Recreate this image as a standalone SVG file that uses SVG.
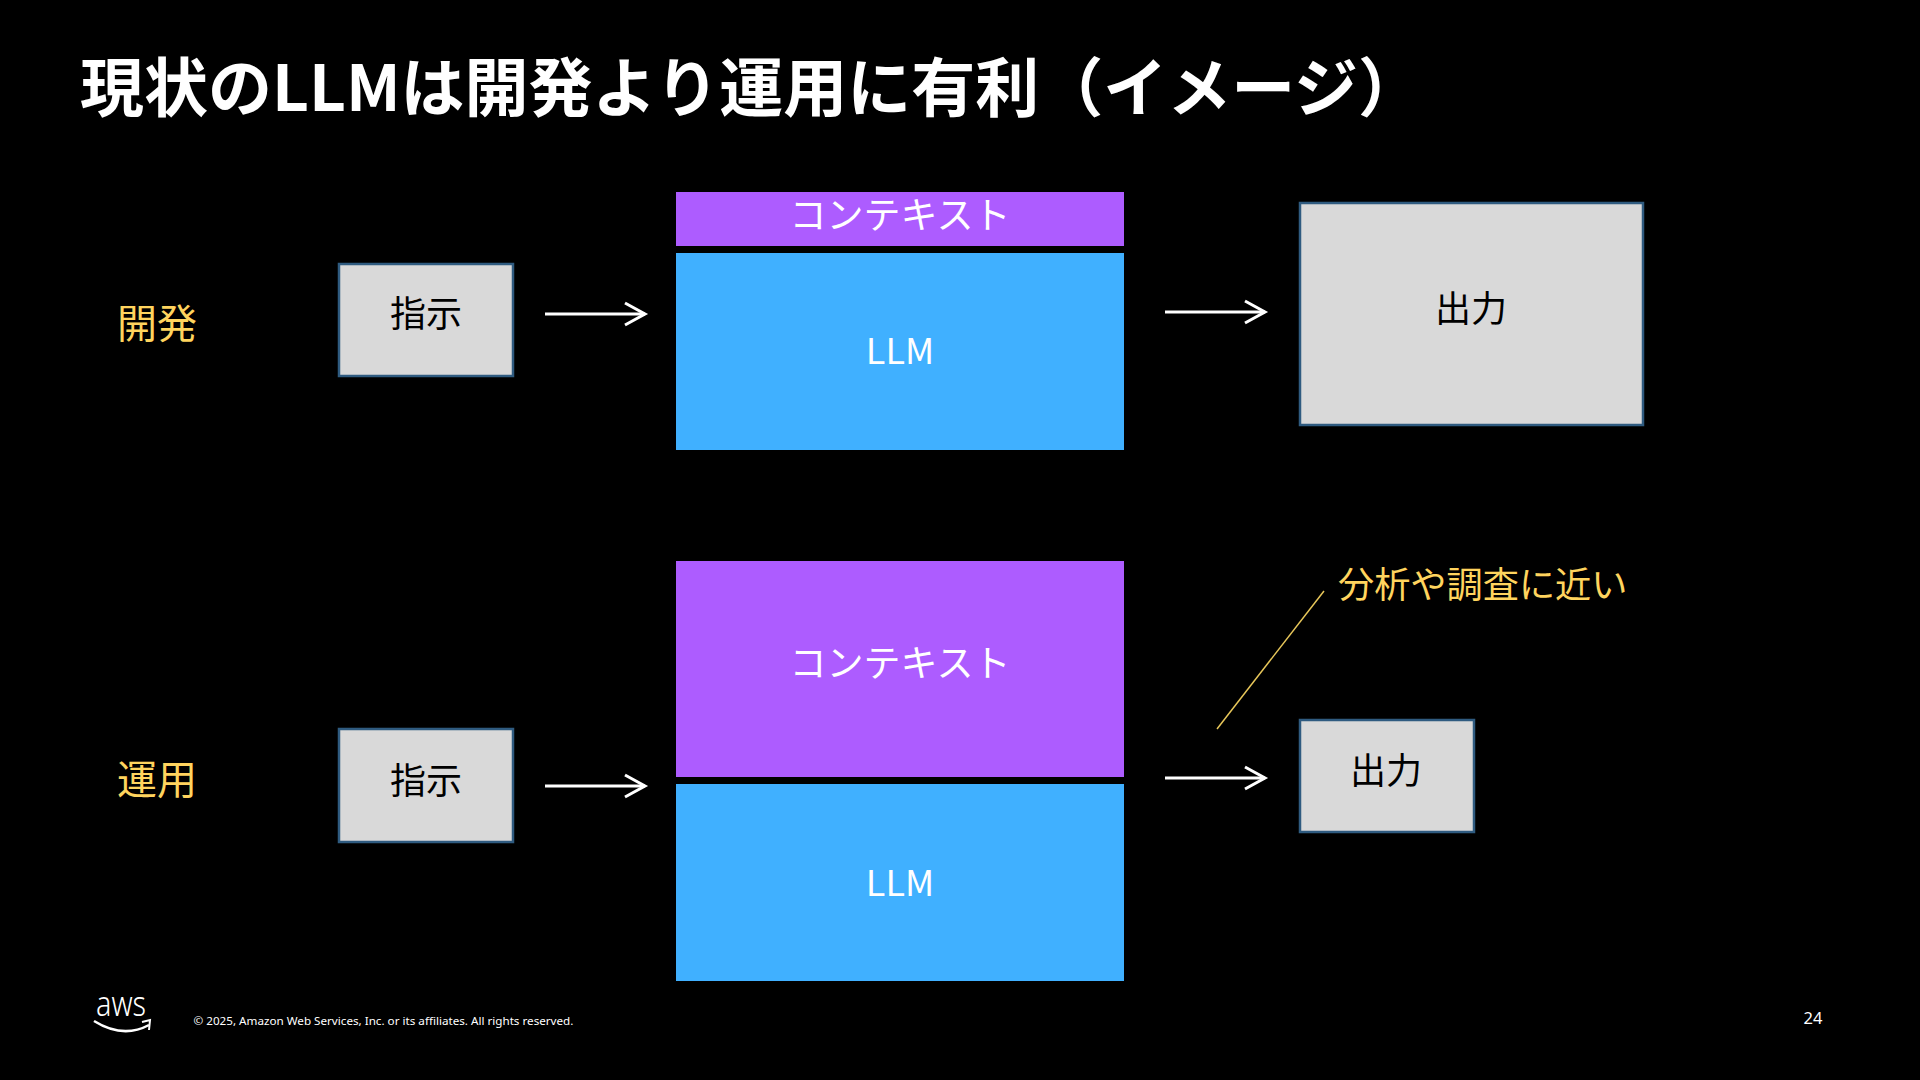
<svg xmlns="http://www.w3.org/2000/svg" width="1920" height="1080" viewBox="0 0 1920 1080">
<defs>
<marker id="open" markerUnits="userSpaceOnUse" markerWidth="24" markerHeight="28" refX="21" refY="12" orient="auto" overflow="visible"><path d="M1 1 L21 12 L1 23" fill="none" stroke="#fff" stroke-width="3"/></marker>
</defs>
<style>
text{font-family:"Noto Sans CJK JP","Noto Sans",sans-serif}
.gray{fill:#d9d9d9;stroke:#2f5b80;stroke-width:2.5}
.purple{fill:#ad5cff}
.blue{fill:#40b0ff}
.t{font-size:36px;text-anchor:middle;fill:#000}
.w{font-size:36px;text-anchor:middle;fill:#fff}
.c{font-size:37px;text-anchor:middle;fill:#fff}
.y{font-size:40px;fill:#ffd45e}
.n{font-size:36.2px;fill:#ffd45e}
.arrow{stroke:#fff;stroke-width:3;fill:none;marker-end:url(#open)}
</style>
<rect width="1920" height="1080" fill="#000"/>
<text id="title" x="80" y="111" font-size="64" font-weight="700" fill="#fff">現状のLLMは開発より運用に有利（イメージ）</text>
<g id="label-dev"><text class="y" x="117" y="338">開発</text></g>
<g id="label-ops"><text class="y" x="117" y="794">運用</text></g>
<g id="dev-input"><rect class="gray" x="339" y="264" width="174" height="112"/><text class="t" x="426" y="327">指示</text></g>
<g id="dev-context"><rect class="purple" x="676" y="192" width="448" height="54"/><text class="c" x="900" y="229">コンテキスト</text></g>
<g id="dev-llm"><rect class="blue" x="676" y="253" width="448" height="197"/><text class="w" x="900" y="364">LLM</text></g>
<g id="dev-output"><rect class="gray" x="1300" y="203" width="343" height="222"/><text class="t" x="1471" y="322">出力</text></g>
<g id="ops-input"><rect class="gray" x="339" y="729" width="174" height="113"/><text class="t" x="426" y="794">指示</text></g>
<g id="ops-context"><rect class="purple" x="676" y="561" width="448" height="216"/><text class="c" x="900" y="677">コンテキスト</text></g>
<g id="ops-llm"><rect class="blue" x="676" y="784" width="448" height="197"/><text class="w" x="900" y="896">LLM</text></g>
<g id="ops-output"><rect class="gray" x="1300" y="720" width="174" height="112"/><text class="t" x="1386" y="784">出力</text></g>
<g id="note"><text class="n" x="1338" y="598">分析や調査に近い</text></g>
<g id="connectors">
<line class="arrow" x1="545" y1="314" x2="645" y2="314"/>
<line class="arrow" x1="1165" y1="312" x2="1265" y2="312"/>
<line class="arrow" x1="545" y1="786" x2="645" y2="786"/>
<line class="arrow" x1="1165" y1="778" x2="1265" y2="778"/>
<line x1="1217" y1="729" x2="1324" y2="591" stroke="#e8c75a" stroke-width="1.5"/>
</g>
<g id="aws-logo"><text x="96" y="1016" font-size="34" font-weight="300" fill="#fff" textLength="50" lengthAdjust="spacingAndGlyphs" style="font-family:'Noto Sans',sans-serif">aws</text><path d="M94 1021 Q123 1039 149 1025" fill="none" stroke="#fff" stroke-width="2.5"/><path d="M142 1022 L150 1020 L149 1030" fill="none" stroke="#fff" stroke-width="2"/></g>
<text id="copyright" x="193.5" y="1025" font-size="11.66" fill="#fff" style="font-family:'Noto Sans',sans-serif">© 2025, Amazon Web Services, Inc. or its affiliates. All rights reserved.</text>
<text id="page" x="1803.5" y="1023.5" font-size="16.5" fill="#fff" style="font-family:'Noto Sans',sans-serif">24</text>
</svg>
